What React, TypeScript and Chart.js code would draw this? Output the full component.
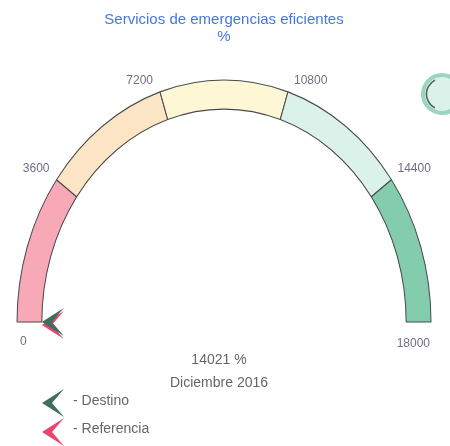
import React, { useEffect, useRef } from 'react';
import { Chart, registerables } from 'chart.js';

Chart.register(...registerables);

// ---- data ----
const titleLines = ['Servicios de emergencias eficientes', '%'];
const bandLimits = [0, 3600, 7200, 10800, 14400, 18000];
const bandColors = ['#f7a9b8', '#fbe5c5', '#fdf7d6', '#dbf2eb', '#84ccae'];
const currentValue = 14021;
const currentUnit = '%';
const periodLabel = 'Diciembre 2016';
const markerNames = ['Destino', 'Referencia'];
const markerValues = [0, 0];
const markerColors = ['#3f6e5a', '#e8466f'];

const FONT = '"Liberation Sans", Arial, sans-serif';
const Y_STRETCH = 1.169;

function chevron(ctx: CanvasRenderingContext2D, x: number, y: number, ang: number, color: string) {
  ctx.save();
  ctx.translate(x, y);
  ctx.rotate(ang);
  ctx.beginPath();
  ctx.moveTo(0, 0);
  ctx.lineTo(-22, -14);
  ctx.lineTo(-10, 0);
  ctx.lineTo(-22, 14);
  ctx.closePath();
  ctx.fillStyle = color;
  ctx.fill();
  ctx.restore();
}

const gaugePlugin = {
  id: 'gaugeExtras',
  beforeDatasetsDraw(chart: any) {
    const arc = chart.getDatasetMeta(0).data[0];
    const ctx = chart.ctx;
    ctx.save();
    ctx.translate(0, arc.y);
    ctx.scale(1, Y_STRETCH);
    ctx.translate(0, -arc.y);
  },
  afterDatasetsDraw(chart: any) {
    const ctx: CanvasRenderingContext2D = chart.ctx;
    ctx.restore();
    const arc = chart.getDatasetMeta(0).data[0];
    const cx = arc.x;
    const cy = arc.y;
    const rOut = arc.outerRadius;
    const rIn = arc.innerRadius;
    const min = bandLimits[0];
    const max = bandLimits[bandLimits.length - 1];
    const angleOf = (v: number) => Math.PI + ((v - min) / (max - min)) * Math.PI;
    const pointAt = (v: number, r: number) => {
      const a = angleOf(v);
      return { x: cx + r * Math.cos(a), y: cy + r * Math.sin(a) * Y_STRETCH, a };
    };

    // tick labels
    ctx.save();
    ctx.font = `12px ${FONT}`;
    ctx.fillStyle = '#6f6f82';
    ctx.textBaseline = 'middle';
    bandLimits.forEach((v) => {
      const p = pointAt(v, rOut);
      if (v === min) {
        ctx.textAlign = 'left';
        ctx.fillText(String(v), p.x + 3, p.y + 20);
      } else if (v === max) {
        ctx.textAlign = 'right';
        ctx.fillText(String(v), p.x - 1, p.y + 22);
      } else if (p.a < 1.5 * Math.PI) {
        ctx.textAlign = 'right';
        ctx.fillText(String(v), p.x - 7, p.y - 11);
      } else {
        ctx.textAlign = 'left';
        ctx.fillText(String(v), p.x + 6, p.y - 11);
      }
    });
    ctx.restore();

    // markers (reference behind destination)
    for (let i = markerValues.length - 1; i >= 0; i--) {
      const p = pointAt(markerValues[i], rIn);
      chevron(ctx, p.x, p.y + i * 3, p.a, markerColors[i]);
    }

    // centre texts
    ctx.save();
    ctx.font = `14px ${FONT}`;
    ctx.fillStyle = '#666666';
    ctx.textAlign = 'center';
    ctx.textBaseline = 'middle';
    ctx.fillText(`${currentValue} ${currentUnit}`, cx - 5, 360);
    ctx.fillText(periodLabel, cx - 5, 383);
    ctx.restore();

    // legend
    ctx.save();
    ctx.font = `14px ${FONT}`;
    ctx.fillStyle = '#666666';
    ctx.textAlign = 'left';
    ctx.textBaseline = 'middle';
    markerNames.forEach((name, i) => {
      chevron(ctx, 42, 403 + i * 29, Math.PI, markerColors[i]);
      ctx.fillText(`- ${name}`, 73, 401 + i * 28);
    });
    ctx.restore();

    // status indicator
    let band = 0;
    for (let i = 0; i < bandColors.length; i++) {
      if (currentValue >= bandLimits[i]) band = i;
    }
    ctx.save();
    ctx.beginPath();
    ctx.arc(442, 94, 19, 0, Math.PI * 2);
    ctx.fillStyle = bandColors[band];
    ctx.fill();
    ctx.lineWidth = 4;
    ctx.strokeStyle = '#9ad5bd';
    ctx.stroke();
    ctx.beginPath();
    ctx.arc(442, 94, 15.5, 0.65 * Math.PI, 1.35 * Math.PI);
    ctx.lineWidth = 1.5;
    ctx.strokeStyle = '#4d5d57';
    ctx.stroke();
    ctx.restore();
  },
};

export default function App() {
  const ref = useRef<HTMLCanvasElement>(null);
  useEffect(() => {
    if (!ref.current) return;
    const sizes = bandLimits.slice(1).map((v, i) => v - bandLimits[i]);
    const chart = new Chart(ref.current, {
      type: 'doughnut',
      data: {
        labels: bandLimits.slice(1).map((v, i) => `${bandLimits[i]}-${v}`),
        datasets: [
          {
            data: sizes,
            backgroundColor: bandColors,
            borderColor: '#4a4a4a',
            borderWidth: 1,
          },
        ],
      },
      options: {
        responsive: false,
        animation: false,
        events: [],
        rotation: -90,
        circumference: 180,
        radius: 207,
        cutout: '88%',
        layout: { padding: { top: 0, left: 0, right: 2, bottom: 54.5 } },
        plugins: {
          legend: { display: false },
          tooltip: { enabled: false },
          title: {
            display: true,
            text: titleLines,
            color: '#4677e0',
            font: { size: 15, family: FONT, weight: 'normal', lineHeight: 1.15 },
            padding: { top: 11, bottom: 0 },
          },
        },
      } as any,
      plugins: [gaugePlugin],
    });
    return () => chart.destroy();
  }, []);
  return (
    <div style={{ position: 'absolute', left: 0, top: 0, width: 450, height: 446, background: '#fff' }}>
      <canvas ref={ref} width={450} height={446} />
    </div>
  );
}
